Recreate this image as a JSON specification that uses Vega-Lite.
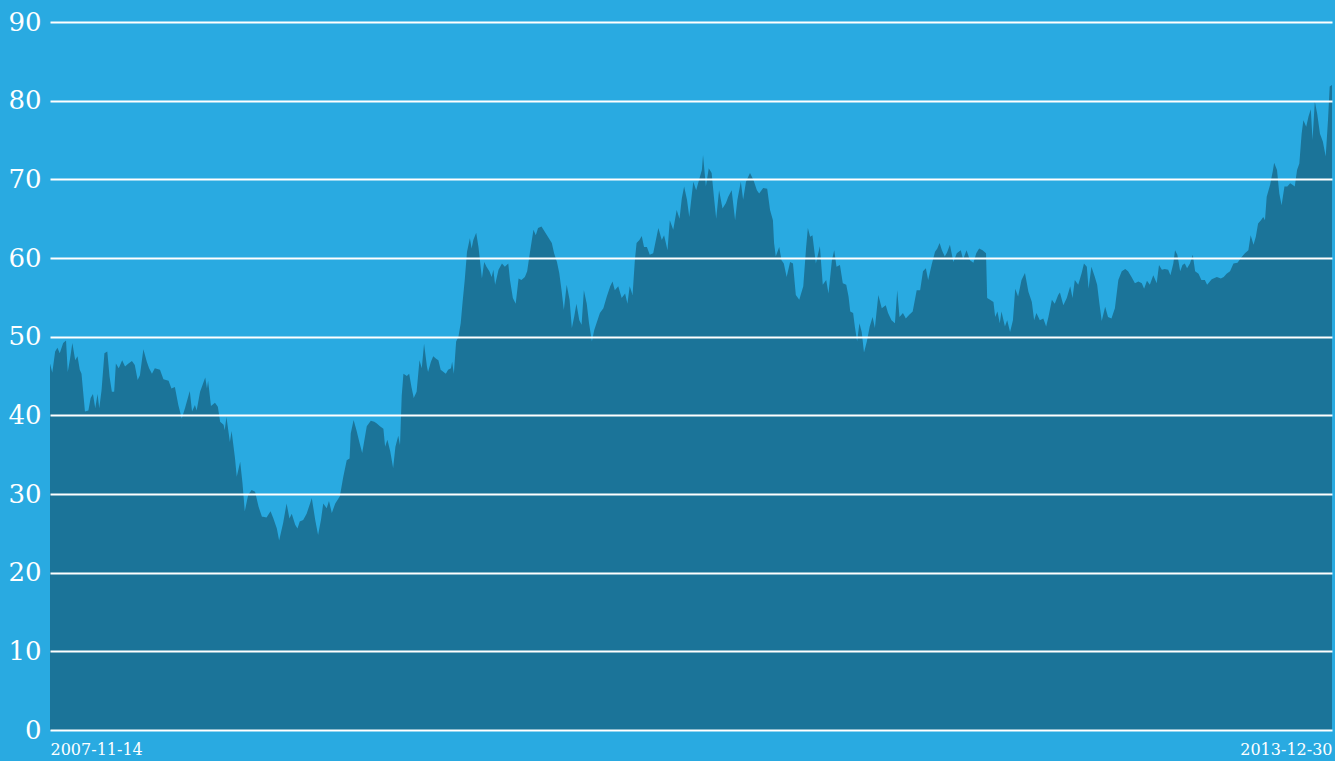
{
  "$schema": "https://vega.github.io/schema/vega-lite/v6.json",
  "width": 1282,
  "height": 708,
  "autosize": {"type": "none"},
  "padding": {"left": 50, "top": 22, "right": 3, "bottom": 31},
  "background": "#29AAE1",
  "config": {
    "view": {"stroke": null},
    "axis": {"labelFont": "DejaVu Serif", "labelColor": "#ffffff"}
  },
  "data": {
    "values": [
      {"d":"2007-11-14","v":46.6},{"d":"2007-11-18","v":45.4},{"d":"2007-11-23","v":48.1},{"d":"2007-11-27","v":48.6},
      {"d":"2007-12-01","v":47.9},{"d":"2007-12-07","v":49.2},{"d":"2007-12-12","v":49.5},{"d":"2007-12-15","v":45.5},
      {"d":"2007-12-19","v":47.2},{"d":"2007-12-23","v":49.2},{"d":"2007-12-28","v":47.0},{"d":"2008-01-01","v":47.5},
      {"d":"2008-01-05","v":45.8},{"d":"2008-01-08","v":45.3},{"d":"2008-01-14","v":40.5},{"d":"2008-01-20","v":40.6},
      {"d":"2008-01-24","v":42.2},{"d":"2008-01-28","v":42.7},{"d":"2008-02-01","v":40.9},{"d":"2008-02-05","v":42.7},
      {"d":"2008-02-08","v":40.9},{"d":"2008-02-12","v":43.2},{"d":"2008-02-17","v":47.9},{"d":"2008-02-22","v":48.1},
      {"d":"2008-02-26","v":44.9},{"d":"2008-03-01","v":43.0},{"d":"2008-03-05","v":43.0},{"d":"2008-03-08","v":46.6},
      {"d":"2008-03-13","v":46.0},{"d":"2008-03-19","v":47.0},{"d":"2008-03-24","v":46.2},{"d":"2008-03-30","v":46.6},
      {"d":"2008-04-05","v":46.9},{"d":"2008-04-10","v":46.4},{"d":"2008-04-15","v":44.5},{"d":"2008-04-19","v":45.1},
      {"d":"2008-04-25","v":48.4},{"d":"2008-05-01","v":46.8},{"d":"2008-05-05","v":46.0},{"d":"2008-05-10","v":45.3},
      {"d":"2008-05-15","v":46.0},{"d":"2008-05-24","v":45.8},{"d":"2008-05-30","v":44.6},{"d":"2008-06-08","v":44.4},
      {"d":"2008-06-13","v":43.4},{"d":"2008-06-19","v":43.6},{"d":"2008-06-25","v":41.3},{"d":"2008-07-01","v":39.6},
      {"d":"2008-07-07","v":41.0},{"d":"2008-07-15","v":43.1},{"d":"2008-07-19","v":40.5},{"d":"2008-07-24","v":41.3},
      {"d":"2008-07-27","v":40.6},{"d":"2008-08-02","v":43.0},{"d":"2008-08-11","v":44.8},{"d":"2008-08-14","v":43.4},
      {"d":"2008-08-16","v":44.4},{"d":"2008-08-21","v":41.2},{"d":"2008-08-28","v":41.6},{"d":"2008-09-02","v":41.1},
      {"d":"2008-09-06","v":39.2},{"d":"2008-09-12","v":38.8},{"d":"2008-09-14","v":38.1},{"d":"2008-09-17","v":39.8},
      {"d":"2008-09-23","v":36.6},{"d":"2008-09-26","v":38.0},{"d":"2008-10-02","v":34.5},{"d":"2008-10-05","v":32.2},
      {"d":"2008-10-11","v":34.1},{"d":"2008-10-15","v":31.4},{"d":"2008-10-19","v":27.8},{"d":"2008-10-25","v":29.9},
      {"d":"2008-10-31","v":30.5},{"d":"2008-11-06","v":30.3},{"d":"2008-11-12","v":28.4},{"d":"2008-11-18","v":27.1},
      {"d":"2008-11-20","v":27.1},{"d":"2008-11-26","v":27.0},{"d":"2008-12-03","v":27.8},{"d":"2008-12-08","v":26.9},
      {"d":"2008-12-14","v":25.6},{"d":"2008-12-18","v":24.1},{"d":"2008-12-25","v":26.3},{"d":"2008-12-31","v":28.8},
      {"d":"2009-01-05","v":26.9},{"d":"2009-01-09","v":27.5},{"d":"2009-01-15","v":26.1},{"d":"2009-01-19","v":25.6},
      {"d":"2009-01-23","v":26.5},{"d":"2009-01-29","v":26.7},{"d":"2009-02-04","v":27.5},{"d":"2009-02-10","v":28.8},
      {"d":"2009-02-13","v":29.5},{"d":"2009-02-19","v":26.7},{"d":"2009-02-24","v":24.8},{"d":"2009-03-01","v":26.7},
      {"d":"2009-03-05","v":28.8},{"d":"2009-03-11","v":28.2},{"d":"2009-03-15","v":29.1},{"d":"2009-03-20","v":27.6},
      {"d":"2009-03-26","v":28.8},{"d":"2009-04-03","v":29.7},{"d":"2009-04-09","v":32.2},{"d":"2009-04-15","v":34.3},
      {"d":"2009-04-20","v":34.5},{"d":"2009-04-22","v":37.7},{"d":"2009-04-27","v":39.4},{"d":"2009-05-02","v":38.1},
      {"d":"2009-05-07","v":36.6},{"d":"2009-05-12","v":35.2},{"d":"2009-05-20","v":38.6},{"d":"2009-05-27","v":39.3},
      {"d":"2009-06-02","v":39.2},{"d":"2009-06-06","v":39.0},{"d":"2009-06-12","v":38.6},{"d":"2009-06-18","v":38.3},
      {"d":"2009-06-21","v":36.0},{"d":"2009-06-25","v":36.9},{"d":"2009-06-30","v":35.4},{"d":"2009-07-05","v":33.3},
      {"d":"2009-07-09","v":36.0},{"d":"2009-07-14","v":37.4},{"d":"2009-07-17","v":36.2},{"d":"2009-07-20","v":42.5},
      {"d":"2009-07-23","v":45.3},{"d":"2009-07-29","v":45.0},{"d":"2009-08-02","v":45.3},{"d":"2009-08-06","v":43.6},
      {"d":"2009-08-10","v":42.2},{"d":"2009-08-15","v":43.0},{"d":"2009-08-20","v":47.0},{"d":"2009-08-24","v":46.0},
      {"d":"2009-08-28","v":49.1},{"d":"2009-09-02","v":46.2},{"d":"2009-09-04","v":45.5},{"d":"2009-09-09","v":46.8},
      {"d":"2009-09-13","v":47.5},{"d":"2009-09-18","v":47.2},{"d":"2009-09-22","v":47.0},{"d":"2009-09-26","v":45.8},
      {"d":"2009-10-01","v":45.5},{"d":"2009-10-05","v":45.3},{"d":"2009-10-09","v":45.8},{"d":"2009-10-14","v":46.0},
      {"d":"2009-10-16","v":46.8},{"d":"2009-10-19","v":45.3},{"d":"2009-10-23","v":49.4},{"d":"2009-10-27","v":50.0},
      {"d":"2009-10-31","v":51.7},{"d":"2009-11-03","v":54.2},{"d":"2009-11-07","v":57.2},{"d":"2009-11-11","v":60.8},
      {"d":"2009-11-16","v":62.5},{"d":"2009-11-19","v":61.2},{"d":"2009-11-22","v":62.3},{"d":"2009-11-27","v":63.2},
      {"d":"2009-12-01","v":61.4},{"d":"2009-12-07","v":57.4},{"d":"2009-12-11","v":59.5},{"d":"2009-12-15","v":58.9},
      {"d":"2009-12-20","v":58.3},{"d":"2009-12-24","v":57.6},{"d":"2009-12-27","v":58.5},{"d":"2009-12-30","v":56.6},
      {"d":"2010-01-05","v":58.5},{"d":"2010-01-11","v":59.3},{"d":"2010-01-16","v":58.9},{"d":"2010-01-22","v":59.3},
      {"d":"2010-01-25","v":57.2},{"d":"2010-01-30","v":54.9},{"d":"2010-02-04","v":54.2},{"d":"2010-02-09","v":57.4},
      {"d":"2010-02-14","v":57.2},{"d":"2010-02-20","v":57.6},{"d":"2010-02-24","v":58.3},{"d":"2010-03-01","v":60.8},
      {"d":"2010-03-07","v":63.6},{"d":"2010-03-11","v":62.9},{"d":"2010-03-15","v":63.8},{"d":"2010-03-21","v":64.0},
      {"d":"2010-03-27","v":63.3},{"d":"2010-04-02","v":62.6},{"d":"2010-04-08","v":61.9},{"d":"2010-04-12","v":60.6},
      {"d":"2010-04-17","v":59.5},{"d":"2010-04-21","v":58.1},{"d":"2010-04-25","v":55.9},{"d":"2010-04-29","v":53.4},
      {"d":"2010-05-04","v":56.6},{"d":"2010-05-09","v":54.7},{"d":"2010-05-13","v":51.1},{"d":"2010-05-17","v":52.5},
      {"d":"2010-05-21","v":54.2},{"d":"2010-05-26","v":52.1},{"d":"2010-05-30","v":51.5},{"d":"2010-06-03","v":55.9},
      {"d":"2010-06-08","v":54.2},{"d":"2010-06-12","v":51.7},{"d":"2010-06-17","v":49.4},{"d":"2010-06-21","v":50.8},
      {"d":"2010-06-25","v":51.7},{"d":"2010-07-01","v":53.0},{"d":"2010-07-07","v":53.6},{"d":"2010-07-13","v":55.1},
      {"d":"2010-07-19","v":56.4},{"d":"2010-07-23","v":57.0},{"d":"2010-07-27","v":55.9},{"d":"2010-08-02","v":56.4},
      {"d":"2010-08-08","v":54.9},{"d":"2010-08-14","v":55.5},{"d":"2010-08-18","v":54.2},{"d":"2010-08-22","v":56.4},
      {"d":"2010-08-27","v":55.3},{"d":"2010-08-31","v":59.7},{"d":"2010-09-03","v":61.9},{"d":"2010-09-08","v":62.3},
      {"d":"2010-09-12","v":62.8},{"d":"2010-09-16","v":61.4},{"d":"2010-09-21","v":61.4},{"d":"2010-09-26","v":60.4},
      {"d":"2010-10-02","v":60.6},{"d":"2010-10-11","v":63.8},{"d":"2010-10-17","v":62.3},{"d":"2010-10-21","v":62.9},
      {"d":"2010-10-27","v":61.0},{"d":"2010-10-31","v":64.8},{"d":"2010-11-06","v":63.6},{"d":"2010-11-12","v":66.1},
      {"d":"2010-11-17","v":65.0},{"d":"2010-11-21","v":67.6},{"d":"2010-11-25","v":69.1},{"d":"2010-11-30","v":67.4},
      {"d":"2010-12-04","v":65.2},{"d":"2010-12-11","v":69.7},{"d":"2010-12-16","v":68.6},{"d":"2010-12-21","v":69.9},
      {"d":"2010-12-26","v":71.2},{"d":"2010-12-28","v":73.1},{"d":"2011-01-02","v":69.1},{"d":"2011-01-07","v":71.4},
      {"d":"2011-01-12","v":70.8},{"d":"2011-01-16","v":67.8},{"d":"2011-01-20","v":65.0},{"d":"2011-01-25","v":68.6},
      {"d":"2011-01-31","v":66.3},{"d":"2011-02-06","v":67.0},{"d":"2011-02-10","v":67.8},{"d":"2011-02-16","v":68.6},
      {"d":"2011-02-22","v":64.8},{"d":"2011-02-26","v":67.4},{"d":"2011-03-04","v":69.7},{"d":"2011-03-08","v":67.4},
      {"d":"2011-03-13","v":69.7},{"d":"2011-03-20","v":70.8},{"d":"2011-03-26","v":69.9},{"d":"2011-04-01","v":68.6},
      {"d":"2011-04-05","v":68.2},{"d":"2011-04-12","v":68.9},{"d":"2011-04-19","v":68.8},{"d":"2011-04-24","v":66.1},
      {"d":"2011-04-29","v":64.8},{"d":"2011-05-01","v":61.9},{"d":"2011-05-04","v":60.2},{"d":"2011-05-10","v":61.4},
      {"d":"2011-05-14","v":59.7},{"d":"2011-05-18","v":59.3},{"d":"2011-05-23","v":57.6},{"d":"2011-05-29","v":59.5},
      {"d":"2011-06-03","v":59.3},{"d":"2011-06-08","v":55.3},{"d":"2011-06-14","v":54.7},{"d":"2011-06-21","v":56.4},
      {"d":"2011-06-26","v":61.4},{"d":"2011-06-29","v":63.8},{"d":"2011-07-03","v":62.7},{"d":"2011-07-07","v":62.9},
      {"d":"2011-07-13","v":59.3},{"d":"2011-07-20","v":61.5},{"d":"2011-07-25","v":56.6},{"d":"2011-07-31","v":57.2},
      {"d":"2011-08-04","v":55.5},{"d":"2011-08-10","v":59.7},{"d":"2011-08-14","v":61.0},{"d":"2011-08-18","v":58.9},
      {"d":"2011-08-24","v":59.1},{"d":"2011-08-29","v":56.8},{"d":"2011-09-04","v":56.6},{"d":"2011-09-08","v":55.1},
      {"d":"2011-09-11","v":53.2},{"d":"2011-09-16","v":53.0},{"d":"2011-09-19","v":51.3},{"d":"2011-09-23","v":49.4},
      {"d":"2011-09-27","v":51.7},{"d":"2011-10-01","v":50.6},{"d":"2011-10-05","v":48.0},{"d":"2011-10-10","v":49.4},
      {"d":"2011-10-15","v":51.3},{"d":"2011-10-20","v":52.5},{"d":"2011-10-24","v":51.1},{"d":"2011-10-30","v":55.3},
      {"d":"2011-11-05","v":53.6},{"d":"2011-11-12","v":54.0},{"d":"2011-11-16","v":53.0},{"d":"2011-11-22","v":52.1},
      {"d":"2011-11-28","v":51.7},{"d":"2011-12-02","v":55.9},{"d":"2011-12-06","v":52.5},{"d":"2011-12-12","v":53.0},
      {"d":"2011-12-17","v":52.3},{"d":"2011-12-23","v":52.8},{"d":"2011-12-29","v":53.2},{"d":"2012-01-05","v":55.9},
      {"d":"2012-01-11","v":55.9},{"d":"2012-01-16","v":58.3},{"d":"2012-01-21","v":58.7},{"d":"2012-01-25","v":57.2},
      {"d":"2012-01-31","v":59.1},{"d":"2012-02-06","v":60.8},{"d":"2012-02-10","v":61.2},{"d":"2012-02-14","v":61.9},
      {"d":"2012-02-18","v":61.0},{"d":"2012-02-23","v":60.2},{"d":"2012-02-27","v":60.7},{"d":"2012-03-03","v":61.7},
      {"d":"2012-03-09","v":59.5},{"d":"2012-03-15","v":60.6},{"d":"2012-03-22","v":61.0},{"d":"2012-03-26","v":59.8},
      {"d":"2012-04-01","v":61.0},{"d":"2012-04-07","v":59.7},{"d":"2012-04-13","v":59.4},{"d":"2012-04-18","v":60.6},
      {"d":"2012-04-23","v":61.2},{"d":"2012-04-29","v":61.0},{"d":"2012-05-05","v":60.6},{"d":"2012-05-07","v":54.9},
      {"d":"2012-05-12","v":54.7},{"d":"2012-05-18","v":54.4},{"d":"2012-05-21","v":52.5},{"d":"2012-05-25","v":53.2},
      {"d":"2012-05-29","v":51.7},{"d":"2012-06-01","v":53.2},{"d":"2012-06-07","v":51.3},{"d":"2012-06-11","v":52.1},
      {"d":"2012-06-16","v":50.6},{"d":"2012-06-21","v":52.1},{"d":"2012-06-25","v":56.1},{"d":"2012-06-30","v":55.1},
      {"d":"2012-07-06","v":57.2},{"d":"2012-07-12","v":58.1},{"d":"2012-07-18","v":55.7},{"d":"2012-07-24","v":54.4},
      {"d":"2012-07-28","v":52.1},{"d":"2012-08-01","v":53.0},{"d":"2012-08-07","v":52.1},{"d":"2012-08-13","v":52.3},
      {"d":"2012-08-18","v":51.3},{"d":"2012-08-22","v":52.5},{"d":"2012-08-28","v":54.7},{"d":"2012-09-02","v":54.2},
      {"d":"2012-09-08","v":55.3},{"d":"2012-09-11","v":55.6},{"d":"2012-09-17","v":54.0},{"d":"2012-09-23","v":54.9},
      {"d":"2012-09-29","v":56.4},{"d":"2012-10-03","v":54.9},{"d":"2012-10-07","v":57.2},{"d":"2012-10-13","v":56.6},
      {"d":"2012-10-19","v":58.1},{"d":"2012-10-23","v":59.3},{"d":"2012-10-28","v":58.9},{"d":"2012-10-31","v":56.1},
      {"d":"2012-11-05","v":58.9},{"d":"2012-11-11","v":57.6},{"d":"2012-11-15","v":56.6},{"d":"2012-11-19","v":54.2},
      {"d":"2012-11-23","v":52.0},{"d":"2012-11-29","v":53.8},{"d":"2012-12-04","v":52.5},{"d":"2012-12-10","v":52.3},
      {"d":"2012-12-16","v":53.6},{"d":"2012-12-22","v":57.2},{"d":"2012-12-28","v":58.3},{"d":"2013-01-03","v":58.6},
      {"d":"2013-01-08","v":58.3},{"d":"2013-01-14","v":57.6},{"d":"2013-01-20","v":56.8},{"d":"2013-01-26","v":57.0},
      {"d":"2013-02-01","v":56.8},{"d":"2013-02-05","v":56.1},{"d":"2013-02-10","v":57.1},{"d":"2013-02-15","v":56.6},
      {"d":"2013-02-21","v":57.8},{"d":"2013-02-27","v":56.8},{"d":"2013-03-03","v":59.1},{"d":"2013-03-08","v":58.5},
      {"d":"2013-03-13","v":58.6},{"d":"2013-03-19","v":58.5},{"d":"2013-03-23","v":57.8},{"d":"2013-03-28","v":59.3},
      {"d":"2013-03-31","v":61.0},{"d":"2013-04-04","v":60.4},{"d":"2013-04-09","v":58.3},{"d":"2013-04-13","v":59.1},
      {"d":"2013-04-17","v":59.3},{"d":"2013-04-21","v":58.7},{"d":"2013-04-26","v":59.3},{"d":"2013-05-01","v":60.4},
      {"d":"2013-05-05","v":58.3},{"d":"2013-05-11","v":58.0},{"d":"2013-05-16","v":57.2},{"d":"2013-05-22","v":57.2},
      {"d":"2013-05-26","v":56.6},{"d":"2013-06-03","v":57.3},{"d":"2013-06-12","v":57.6},{"d":"2013-06-19","v":57.4},
      {"d":"2013-06-24","v":57.6},{"d":"2013-06-29","v":58.0},{"d":"2013-07-05","v":58.3},{"d":"2013-07-11","v":59.3},
      {"d":"2013-07-18","v":59.4},{"d":"2013-07-25","v":60.1},{"d":"2013-07-31","v":60.6},{"d":"2013-08-06","v":61.0},
      {"d":"2013-08-10","v":62.9},{"d":"2013-08-15","v":61.7},{"d":"2013-08-19","v":62.7},{"d":"2013-08-23","v":64.4},
      {"d":"2013-08-28","v":64.8},{"d":"2013-09-01","v":65.2},{"d":"2013-09-04","v":64.8},{"d":"2013-09-07","v":67.8},
      {"d":"2013-09-13","v":69.3},{"d":"2013-09-18","v":71.2},{"d":"2013-09-20","v":72.1},{"d":"2013-09-25","v":71.2},
      {"d":"2013-09-29","v":68.2},{"d":"2013-10-03","v":66.7},{"d":"2013-10-08","v":69.1},{"d":"2013-10-13","v":69.1},
      {"d":"2013-10-18","v":69.5},{"d":"2013-10-22","v":69.3},{"d":"2013-10-26","v":69.1},{"d":"2013-10-30","v":71.2},
      {"d":"2013-11-03","v":72.0},{"d":"2013-11-07","v":75.8},{"d":"2013-11-10","v":77.5},{"d":"2013-11-15","v":76.7},
      {"d":"2013-11-19","v":78.0},{"d":"2013-11-23","v":78.9},{"d":"2013-11-26","v":75.0},{"d":"2013-11-30","v":79.9},
      {"d":"2013-12-04","v":78.4},{"d":"2013-12-09","v":75.8},{"d":"2013-12-14","v":74.8},{"d":"2013-12-19","v":72.9},
      {"d":"2013-12-23","v":77.5},{"d":"2013-12-26","v":81.8},{"d":"2013-12-30","v":82.0}
    ]
  },
  "mark": {"type": "area", "color": "#1B7499", "interpolate": "linear"},
  "encoding": {
    "x": {
      "field": "d",
      "type": "temporal",
      "scale": {"type": "utc", "nice": false},
      "axis": {
        "title": null,
        "grid": false,
        "domain": false,
        "ticks": false,
        "labelFlush": true,
        "labelFontSize": 16,
        "labelPadding": 11,
        "labelExpr": "utcFormat(datum.value, '%Y-%m-%d')",
        "values": [
          {"year": 2007, "month": 11, "date": 14, "utc": true},
          {"year": 2013, "month": 12, "date": 30, "utc": true}
        ]
      }
    },
    "y": {
      "field": "v",
      "type": "quantitative",
      "scale": {"domain": [0, 90], "nice": false},
      "axis": {
        "title": null,
        "values": [0, 10, 20, 30, 40, 50, 60, 70, 80, 90],
        "grid": true,
        "gridColor": "#ffffff",
        "gridWidth": 2,
        "gridOpacity": 1,
        "domain": false,
        "ticks": false,
        "labelFontSize": 26,
        "labelPadding": 9,
        "zindex": 1
      }
    }
  }
}
